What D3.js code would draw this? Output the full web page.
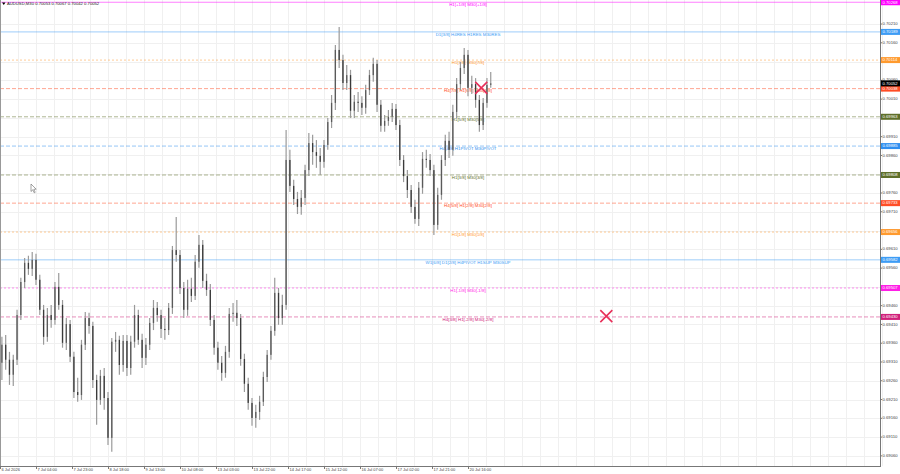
<!DOCTYPE html>
<html>
<head>
<meta charset="utf-8">
<script src="https://cdn.jsdelivr.net/npm/d3@7/dist/d3.min.js"></script>
<style>
  html, body { margin: 0; padding: 0; background: #fff; }
  svg { display: block; font-family: "Liberation Sans", Arial, sans-serif; }
</style>
</head>
<body>
<div id="chart"></div>
<script>
// ---- data (prices in points, 0.70052 -> 70052) ----
const titleText = "AUDUSD,M30  0.70053 0.70067 0.70042 0.70052";
const barHours = 2; // each drawn bar spans 2 trading hours

const opens = [69308,69356,69316,69276,69316,69435,69523,69574,69558,69582,69529,69449,69377,69435,69422,69510,69462,69361,69411,69324,
  69230,69222,69356,69427,69406,69262,69209,69273,69214,69108,69364,69369,69302,69366,69294,69364,69435,69369,69321,69356,
  69414,69454,69435,69398,69395,69454,69608,69595,69507,69449,69505,69486,69577,69622,69526,69502,69422,69348,69308,69281,
  69337,69438,69441,69427,69318,69252,69201,69161,69177,69204,69270,69329,69393,69494,69427,69462,69848,69779,69744,69723,
  69747,69821,69893,69869,69859,69843,69888,69949,70000,70141,70114,70053,70074,69979,70003,70000,69987,70034,70074,70104,
  69995,69939,69952,69963,69984,69941,69848,69805,69768,69723,69691,69774,69851,69848,69821,69675,69755,69848,69899,69875,
  69976,70050,70093,70128,70040,70050,70008,69941,70000,70048];
const highs = [69377,69382,69337,69329,69449,69534,69587,69593,69603,69598,69542,69462,69454,69462,69523,69547,69475,69427,69422,69337,
  69268,69369,69443,69441,69417,69276,69289,69294,69230,69374,69390,69380,69382,69382,69380,69462,69449,69385,69374,69427,
  69475,69470,69449,69427,69467,69619,69696,69608,69523,69529,69534,69595,69648,69635,69545,69518,69435,69364,69326,69353,
  69454,69467,69475,69438,69332,69268,69214,69196,69220,69284,69342,69406,69534,69507,69489,69928,69875,69795,69763,69768,
  69835,69920,69915,69901,69880,69901,69960,70021,70154,70202,70128,70101,70088,70021,70029,70018,70048,70088,70120,70114,
  70008,69968,69981,70000,69997,69955,69861,69821,69781,69742,69789,69869,69875,69864,69835,69774,69861,69915,69923,69995,
  70066,70109,70146,70141,70072,70066,70021,70013,70066,70082];
const lows = [69262,69289,69249,69246,69302,69422,69507,69542,69539,69515,69435,69356,69364,69401,69409,69449,69348,69342,69310,69214,
  69204,69209,69342,69385,69241,69143,69196,69183,69089,69071,69337,69276,69284,69273,69276,69348,69356,69294,69302,69342,
  69395,69417,69374,69369,69382,69438,69577,69491,69427,69433,69470,69475,69561,69507,69486,69406,69329,69289,69260,69268,
  69321,69417,69406,69300,69230,69183,69140,69135,69156,69193,69257,69316,69380,69409,69409,69449,69763,69728,69704,69702,
  69728,69805,69835,69827,69808,69827,69875,69933,69981,70093,70034,70034,69960,69960,69976,69968,69971,70021,70056,69976,
  69923,69923,69939,69949,69928,69832,69789,69747,69707,69678,69672,69758,69827,69805,69648,69662,69742,69832,69853,69859,
  69960,70034,70077,70018,70024,69987,69923,69928,69987,70040];
const closes = [69356,69316,69276,69316,69435,69523,69574,69558,69582,69529,69449,69377,69435,69422,69510,69462,69361,69411,69324,69230,
  69222,69356,69427,69406,69262,69209,69273,69214,69108,69364,69369,69302,69366,69294,69364,69435,69369,69321,69356,69414,
  69454,69435,69398,69395,69454,69608,69595,69507,69449,69505,69486,69577,69622,69526,69502,69422,69348,69308,69281,69337,
  69438,69441,69427,69318,69252,69201,69161,69177,69204,69270,69329,69393,69494,69427,69462,69848,69779,69744,69723,69747,
  69821,69893,69869,69859,69843,69888,69949,70000,70141,70114,70053,70074,69979,70003,70000,69987,70034,70074,70104,69995,
  69939,69952,69963,69984,69941,69848,69805,69768,69723,69691,69774,69851,69848,69821,69675,69755,69848,69899,69875,69976,
  70050,70093,70128,70040,70050,70008,69941,70000,70048,70052];

// time axis: trading hours since the first bar, weekend removed
const timeLabels = ["6 Jul 2026","7 Jul 04:00","7 Jul 23:00","8 Jul 18:00","9 Jul 13:00","10 Jul 08:00","13 Jul 03:00",
  "13 Jul 22:00","14 Jul 17:00","15 Jul 12:00","16 Jul 07:00","17 Jul 02:00","17 Jul 21:00","20 Jul 16:00"];
const timeLabelHours = [0,19,38,57,76,95,114,133,152,171,190,209,228,247];

// Murrey levels drawn as horizontal lines
const levelNames = ["H1[+1/8] M30[+1/8]","D1[3/8] H4RES H1RES M30RES","H1[7/8] M30[7/8]","H4[7/8] H1[6/8] M30[6/8]",
  "H1[5/8] M30[5/8]","H4[4/8] H1PIVOT M30PIVOT","H1[3/8] M30[3/8]","H4[5/8] H1[2/8] M30[2/8]","H1[1/8] M30[1/8]",
  "W1[6/8] D1[2/8] H4PIVOT H1SUP M30SUP","H1[-1/8] M30[-1/8]","H4[3/8] H1[-2/8] M30[-2/8]"];
const levelPrices = [0.70268,0.70189,0.70114,0.70038,0.69963,0.69885,0.69808,0.69733,0.69656,0.69582,0.69507,0.69430];
const levelColors = ["#ff00ff","#3d9cf5","#ff9a2e","#ff4d26","#5f6f2a","#2f8ff0","#5f6f2a","#ff4d26","#ff9a2e","#3d9cf5","#ff1ee6","#d0207a"];
const levelDashes = [null,null,"2,2","4,2","4,2","4,2","4,2","4,2","2,2",null,"2,2","4,2"];
const levelLabelHour = 247;

const lastPrice = 0.70052;
const crossHours = [254, 320];
const crossPrices = [0.70040, 0.69432];

// ---- layout ----
const width = 900, height = 474;
const plotRight = 880, plotBottom = 466;

const svg = d3.select("#chart").append("svg")
  .attr("width", width).attr("height", height);

const x = d3.scaleLinear().domain([0, 247]).range([0, 468]);
const y = d3.scaleLinear().domain([0.69033, 0.70274]).range([plotBottom, 0]);

const priceTicks = d3.range(69060, 70211, 50).map(v => v / 1e5);
const gridHours = d3.range(0, 470, 9.5);

// grid
const grid = svg.append("g");
grid.selectAll("line.v").data(gridHours).join("line")
  .attr("x1", d => Math.round(x(d)) + 0.5).attr("x2", d => Math.round(x(d)) + 0.5)
  .attr("y1", 0).attr("y2", plotBottom)
  .attr("stroke", "#f0f0f0").attr("stroke-width", 1);
grid.selectAll("line.h").data(priceTicks).join("line")
  .attr("x1", 0).attr("x2", plotRight)
  .attr("y1", d => Math.round(y(d)) + 0.5).attr("y2", d => Math.round(y(d)) + 0.5)
  .attr("stroke", "#f0f0f0").attr("stroke-width", 1);

// level lines
const lv = svg.append("g");
lv.selectAll("line").data(levelPrices).join("line")
  .attr("x1", 0).attr("x2", plotRight)
  .attr("y1", d => y(d)).attr("y2", d => y(d))
  .attr("stroke", (d, i) => levelColors[i])
  .attr("stroke-opacity", 0.5)
  .attr("stroke-width", 1)
  .attr("stroke-dasharray", (d, i) => levelDashes[i]);

// bars
const idx = d3.range(opens.length);
const bars = svg.append("g");
bars.selectAll("line").data(idx).join("line")
  .attr("x1", i => x(i * barHours + 1)).attr("x2", i => x(i * barHours + 1))
  .attr("y1", i => y(highs[i] / 1e5)).attr("y2", i => y(lows[i] / 1e5))
  .attr("stroke", "#9a9a9a").attr("stroke-width", 1.2);
bars.selectAll("rect").data(idx).join("rect")
  .attr("x", i => x(i * barHours + 1) - 0.65)
  .attr("width", 1.3)
  .attr("y", i => y(Math.max(opens[i], closes[i]) / 1e5))
  .attr("height", i => Math.max(1, Math.abs(y(opens[i] / 1e5) - y(closes[i] / 1e5))))
  .attr("fill", i => closes[i] < opens[i] ? "#3a3a3a" : "#5a5a5a");

// level labels
lv.selectAll("text").data(levelNames).join("text")
  .attr("x", x(levelLabelHour)).attr("y", (d, i) => y(levelPrices[i]) + 2.6)
  .attr("text-anchor", "middle").attr("dominant-baseline", "middle")
  .attr("font-size", 4.4).attr("fill", (d, i) => levelColors[i])
  .text(d => d);

// crosses
const cr = svg.append("g");
crossHours.forEach((h, i) => {
  const cx = x(h), cy = y(crossPrices[i]);
  cr.append("path")
    .attr("d", `M${cx - 6},${cy - 6}L${cx + 6},${cy + 6}M${cx - 6},${cy + 6}L${cx + 6},${cy - 6}`)
    .attr("stroke", "#e8305a").attr("stroke-width", 1.6).attr("fill", "none");
});

// frame
svg.append("line").attr("x1", plotRight + 0.5).attr("x2", plotRight + 0.5).attr("y1", 0).attr("y2", plotBottom + 1)
  .attr("stroke", "#777");
svg.append("line").attr("x1", 0).attr("x2", plotRight + 1).attr("y1", plotBottom + 0.5).attr("y2", plotBottom + 0.5)
  .attr("stroke", "#777");
svg.append("line").attr("x1", 0.5).attr("x2", 0.5).attr("y1", 0).attr("y2", plotBottom)
  .attr("stroke", "#999");

// price axis
const axR = svg.append("g").attr("font-size", 4.2).attr("fill", "#444");
axR.selectAll("line").data(priceTicks).join("line")
  .attr("x1", plotRight).attr("x2", plotRight + 2)
  .attr("y1", d => y(d)).attr("y2", d => y(d)).attr("stroke", "#777");
axR.selectAll("text").data(priceTicks).join("text")
  .attr("x", plotRight + 2.5).attr("y", d => y(d))
  .attr("dominant-baseline", "middle")
  .text(d => d3.format(".5f")(d));

// price tags
const tagPrices = levelPrices.concat([lastPrice]);
const tagColors = levelColors.map(c => c).concat(["#000"]);
const tags = svg.append("g");
tags.selectAll("rect").data(tagPrices).join("rect")
  .attr("x", plotRight + 1).attr("width", 19)
  .attr("y", d => y(d) - 3).attr("height", 6)
  .attr("fill", (d, i) => tagColors[i]);
tags.selectAll("text").data(tagPrices).join("text")
  .attr("x", plotRight + 2.5).attr("y", d => y(d) + 0.2)
  .attr("dominant-baseline", "middle")
  .attr("font-size", 4.2).attr("fill", "#fff")
  .text(d => d3.format(".5f")(d));

// time axis
const axB = svg.append("g").attr("font-size", 4).attr("fill", "#444");
axB.selectAll("line").data(timeLabelHours).join("line")
  .attr("x1", d => x(d) + 0.5).attr("x2", d => x(d) + 0.5)
  .attr("y1", plotBottom).attr("y2", plotBottom + 3).attr("stroke", "#777");
axB.selectAll("text").data(timeLabels).join("text")
  .attr("x", (d, i) => x(timeLabelHours[i]) + 1.5).attr("y", plotBottom + 4)
  .attr("dominant-baseline", "middle")
  .text(d => d);

// title
svg.append("path").attr("d", "M2,2.5L5.5,2.5L3.75,5z").attr("fill", "#000");
svg.append("text").attr("x", 7).attr("y", 4.2)
  .attr("dominant-baseline", "middle").attr("font-size", 4.2).attr("fill", "#222")
  .text(titleText);

// mouse pointer left on the screenshot
svg.append("path")
  .attr("d", "M31,184L31,191.5L32.8,189.8L34.2,192.8L35.2,192.3L33.8,189.3L36.2,189.2Z")
  .attr("fill", "#fff").attr("stroke", "#666").attr("stroke-width", 0.6);
</script>
</body>
</html>
